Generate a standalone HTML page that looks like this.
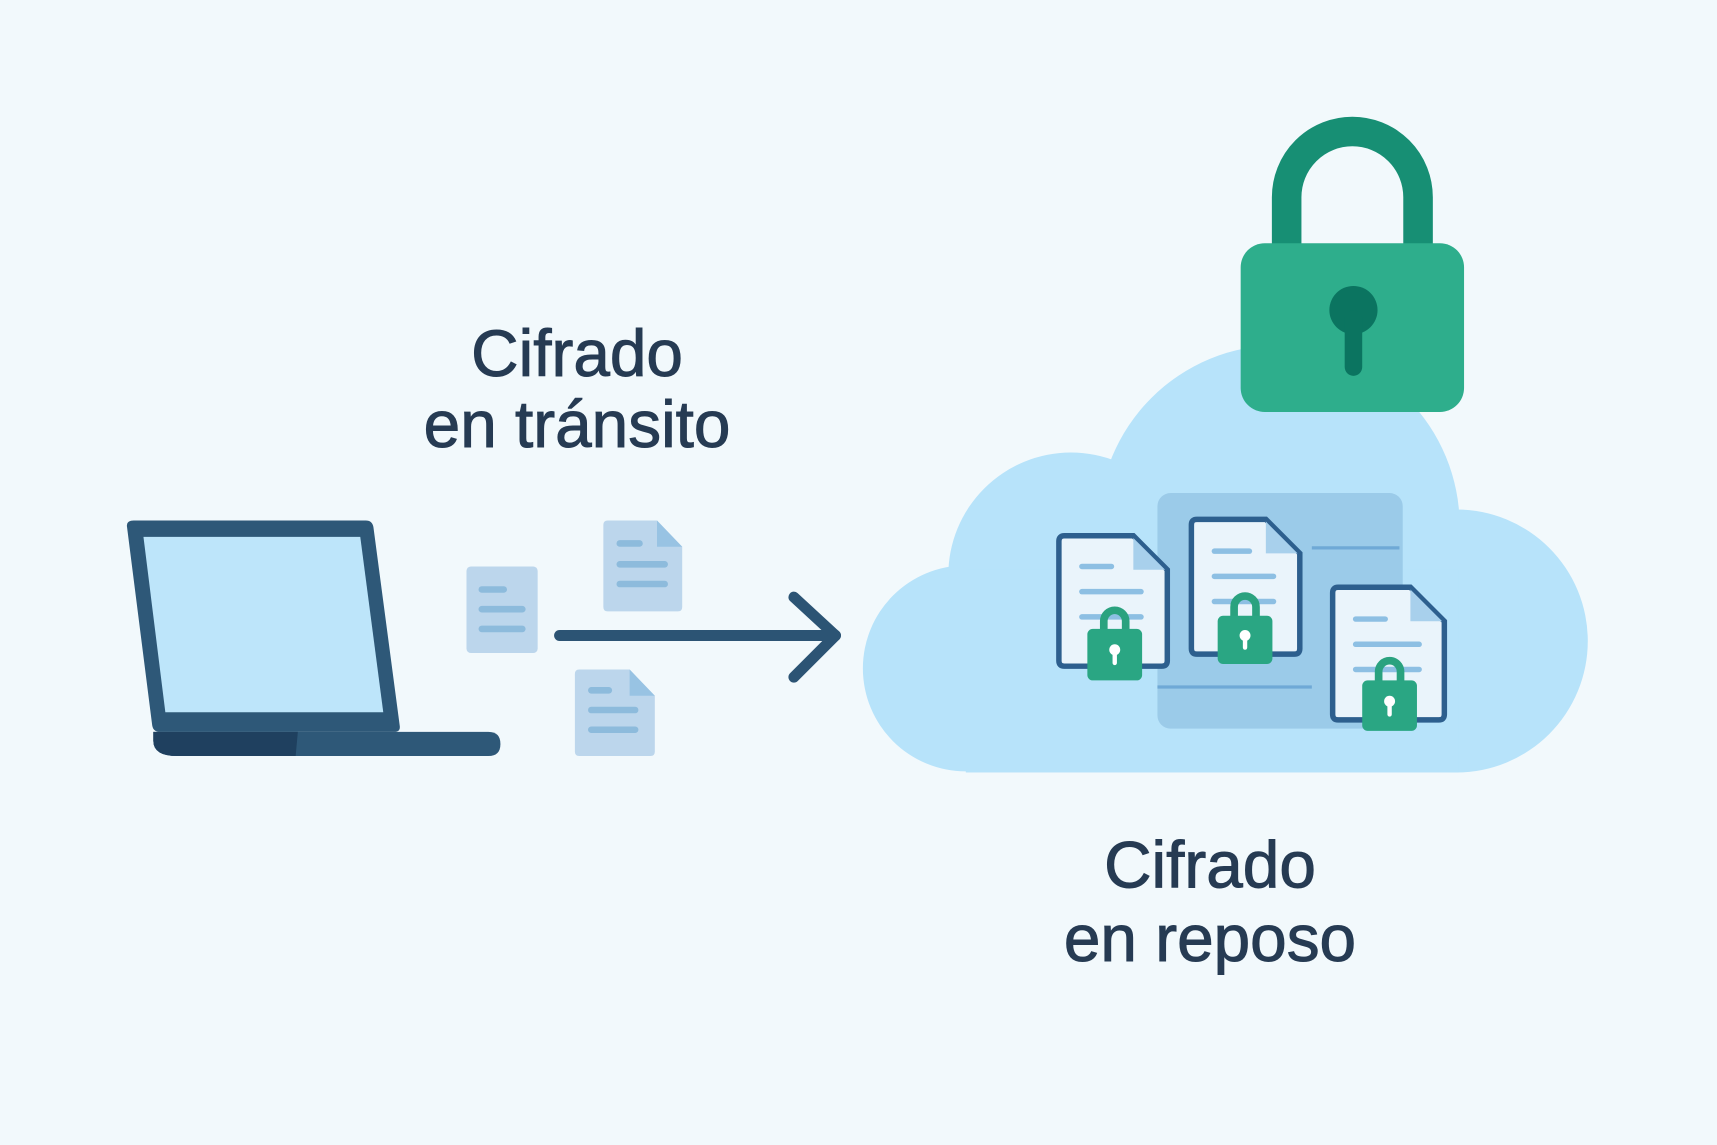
<!DOCTYPE html>
<html><head><meta charset="utf-8"><style>
html,body{margin:0;padding:0;background:#f2f9fc;}
svg{display:block;}
text{font-family:"Liberation Sans",sans-serif;fill:#263b53;stroke:#263b53;stroke-width:0.9;}
</style></head><body>
<svg width="1717" height="1145" viewBox="0 0 1568 1045" preserveAspectRatio="none" xmlns="http://www.w3.org/2000/svg">
<rect width="1568" height="1045" fill="#f2f9fc"/>
<!-- laptop -->
<path d="M122,475 L334,475 Q340,475 341,481 L365,662 Q366,668 360,668 L146,668 Q140,668 139,662 L116,481 Q115,475 122,475 Z" fill="#2e5878"/>
<path d="M131,490 L329,490 L350,650 L151,650 Z" fill="#bde5fa"/>
<path d="M140,668 L446,668 Q457,668 457,679 Q457,690 446,690 L162,690 Q140,690 140,676 Z" fill="#2e5878"/>
<path d="M140,668 L272,668 L270,690 L162,690 Q140,690 140,676 Z" fill="#1f405f"/>
<!-- small docs -->
<rect x="426" y="517" width="65" height="79" rx="4" fill="#bcd6ec"/>
<g stroke="#8dbbdc" stroke-width="6" stroke-linecap="round">
<line x1="440" y1="538" x2="460" y2="538"/><line x1="440" y1="556" x2="477" y2="556"/><line x1="440" y1="574" x2="477" y2="574"/></g>
<path d="M555,475 L600,475 L623,499 L623,554 Q623,558 619,558 L555,558 Q551,558 551,554 L551,479 Q551,475 555,475 Z" fill="#bcd6ec"/>
<path d="M600,475 L623,499 L600,499 Z" fill="#98c3e3"/>
<g stroke="#8dbbdc" stroke-width="6" stroke-linecap="round">
<line x1="566" y1="496" x2="584" y2="496"/><line x1="566" y1="515" x2="607" y2="515"/><line x1="566" y1="533" x2="607" y2="533"/></g>
<path d="M529,611 L575,611 L598,635 L598,686 Q598,690 594,690 L529,690 Q525,690 525,686 L525,615 Q525,611 529,611 Z" fill="#bcd6ec"/>
<path d="M575,611 L598,635 L575,635 Z" fill="#98c3e3"/>
<g stroke="#8dbbdc" stroke-width="6" stroke-linecap="round">
<line x1="540" y1="630" x2="556" y2="630"/><line x1="540" y1="648" x2="580" y2="648"/><line x1="540" y1="666" x2="580" y2="666"/></g>
<!-- arrow -->
<g stroke="#2c5474" stroke-width="10" stroke-linecap="round" stroke-linejoin="round" fill="none">
<line x1="511" y1="580" x2="763" y2="580"/><polyline points="725,545 763,580 725,618"/></g>
<!-- labels -->
<text x="527" y="343" font-size="60" text-anchor="middle">Cifrado</text>
<text x="527" y="408" font-size="60" text-anchor="middle">en tránsito</text>
<text x="1105" y="810" font-size="60" text-anchor="middle">Cifrado</text>
<text x="1105" y="877" font-size="60" text-anchor="middle">en reposo</text>
<!-- cloud -->
<g fill="#b7e3fa">
<circle cx="882" cy="610" r="94"/>
<circle cx="978" cy="525" r="112"/>
<circle cx="1168" cy="480" r="165"/>
<circle cx="1330" cy="585" r="120"/>
<rect x="882" y="520" width="450" height="185"/>
</g>
<!-- panel -->
<rect x="1057" y="450" width="224" height="215" rx="12" fill="#9bcbe9"/>
<g stroke="#6fa9d6" stroke-width="3"><line x1="1198" y1="500" x2="1278" y2="500"/><line x1="1057" y1="627" x2="1198" y2="627"/></g>
<!-- docs with locks -->
<path d="M972,489 L1035,489 L1066,520 L1066,603 Q1066,608 1061,608 L972,608 Q967,608 967,603 L967,494 Q967,489 972,489 Z" fill="#eaf4fb" stroke="#2d5f8e" stroke-width="5"/>
<path d="M1035,491 L1064,520 L1035,520 Z" fill="#a8d0ec"/>
<g stroke="#8dbfe3" stroke-width="5" stroke-linecap="round"><line x1="988" y1="517" x2="1015" y2="517"/><line x1="988" y1="540" x2="1042" y2="540"/><line x1="988" y1="563" x2="1042" y2="563"/></g>
<path d="M1008,578 L1008,567 A10,10 0 0 1 1028,567 L1028,578" fill="none" stroke="#2aa27f" stroke-width="7"/>
<rect x="993" y="574" width="50" height="47" rx="5" fill="#2aa683"/>
<circle cx="1018" cy="593" r="5" fill="#fff"/><rect x="1016" y="593" width="4" height="14" rx="2" fill="#fff"/>
<path d="M1093,474 L1156,474 L1187,505 L1187,592 Q1187,597 1182,597 L1093,597 Q1088,597 1088,592 L1088,479 Q1088,474 1093,474 Z" fill="#eaf4fb" stroke="#2d5f8e" stroke-width="5"/>
<path d="M1156,476 L1185,505 L1156,505 Z" fill="#a8d0ec"/>
<g stroke="#8dbfe3" stroke-width="5" stroke-linecap="round"><line x1="1109" y1="503" x2="1141" y2="503"/><line x1="1109" y1="526" x2="1163" y2="526"/><line x1="1109" y1="549" x2="1163" y2="549"/></g>
<path d="M1127,566 L1127,554 A10,10 0 0 1 1147,554 L1147,566" fill="none" stroke="#2aa27f" stroke-width="7"/>
<rect x="1112" y="562" width="50" height="44" rx="5" fill="#2aa683"/>
<circle cx="1137" cy="580" r="5" fill="#fff"/><rect x="1135" y="580" width="4" height="13" rx="2" fill="#fff"/>
<path d="M1222,536 L1288,536 L1319,567 L1319,652 Q1319,657 1314,657 L1222,657 Q1217,657 1217,652 L1217,541 Q1217,536 1222,536 Z" fill="#eaf4fb" stroke="#2d5f8e" stroke-width="5"/>
<path d="M1288,538 L1317,567 L1288,567 Z" fill="#a8d0ec"/>
<g stroke="#8dbfe3" stroke-width="5" stroke-linecap="round"><line x1="1238" y1="565" x2="1265" y2="565"/><line x1="1238" y1="588" x2="1296" y2="588"/><line x1="1238" y1="611" x2="1296" y2="611"/></g>
<path d="M1259,625 L1259,613 A10,10 0 0 1 1279,613 L1279,625" fill="none" stroke="#2aa27f" stroke-width="7"/>
<rect x="1244" y="621" width="50" height="46" rx="5" fill="#2aa683"/>
<circle cx="1269" cy="640" r="5" fill="#fff"/><rect x="1267" y="640" width="4" height="14" rx="2" fill="#fff"/>
<!-- big lock -->
<path d="M1175,230 L1175,180 A60,60 0 0 1 1295,180 L1295,230" fill="none" stroke="#178f74" stroke-width="27"/>
<rect x="1133" y="222" width="204" height="154" rx="22" fill="#2eae8c"/>
<circle cx="1236" cy="283" r="22" fill="#0b7460"/>
<rect x="1228" y="283" width="16" height="60" rx="8" fill="#0b7460"/>
</svg>
</body></html>
